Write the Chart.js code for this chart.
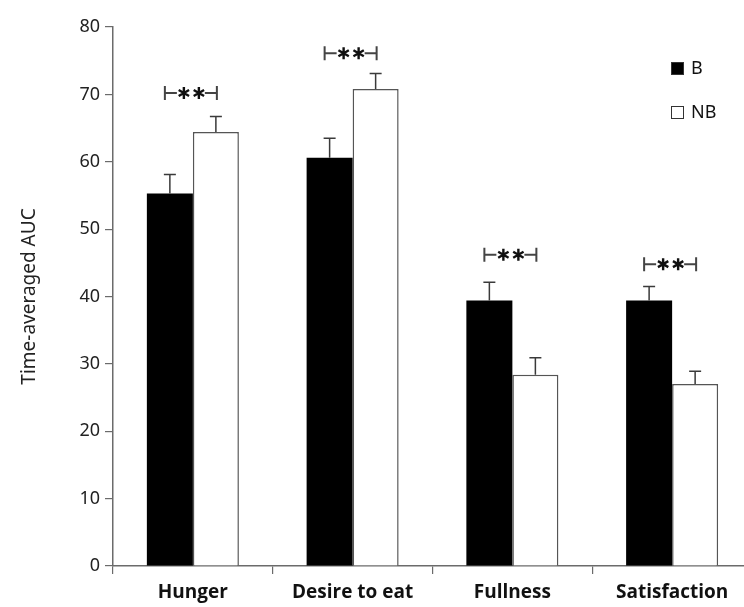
<!DOCTYPE html>
<html>
<head>
<meta charset="utf-8">
<script src="https://cdn.jsdelivr.net/npm/chart.js@4.4.0/dist/chart.umd.min.js"></script>
<style>
  html, body { margin: 0; padding: 0; background: #fff; overflow: hidden; }
  #chart { display: block; }
</style>
</head>
<body>
<canvas id="chart" width="752" height="607"></canvas>
<script>
// categories and series
const categories = ['Hunger', 'Desire to eat', 'Fullness', 'Satisfaction'];
const seriesNames = ['B', 'NB'];
const bMeans = [55.3, 60.6, 39.4, 39.4];
const bErrors = [2.8, 2.9, 2.7, 2.1];
const nbMeans = [64.4, 70.8, 28.4, 27.0];
const nbErrors = [2.3, 2.3, 2.5, 1.9];
// height of the "|-**-|" significance brackets
const sigLevels = [70.2, 76.1, 46.2, 44.8];
const yTicks = [0, 10, 20, 30, 40, 50, 60, 70, 80];
const yTitle = 'Time-averaged AUC';

const axisColor = '#6b6b6b';

// error bars (upper only), significance marks and the legend
const extras = {
  id: 'extras',
  afterDatasetsDraw(chart) {
    const ctx = chart.ctx;
    const yScale = chart.scales.y;
    const xScale = chart.scales.x;
    const errs = [bErrors, nbErrors];

    ctx.save();
    ctx.strokeStyle = '#3a3a3a';
    ctx.lineWidth = 1.5;
    chart.data.datasets.forEach((ds, di) => {
      const meta = chart.getDatasetMeta(di);
      meta.data.forEach((bar, i) => {
        const top = yScale.getPixelForValue(ds.data[i] + errs[di][i]);
        ctx.beginPath();
        ctx.moveTo(bar.x, bar.y);
        ctx.lineTo(bar.x, top);
        ctx.moveTo(bar.x - 6, top);
        ctx.lineTo(bar.x + 6, top);
        ctx.stroke();
      });
    });

    // |-**-|
    sigLevels.forEach((v, i) => {
      const cx = xScale.getPixelForValue(i) - 2;
      const cy = yScale.getPixelForValue(v);
      ctx.strokeStyle = '#444';
      ctx.lineWidth = 2;
      ctx.beginPath();
      ctx.moveTo(cx - 26, cy - 7);
      ctx.lineTo(cx - 26, cy + 7);
      ctx.moveTo(cx + 26, cy - 7);
      ctx.lineTo(cx + 26, cy + 7);
      ctx.moveTo(cx - 26, cy);
      ctx.lineTo(cx - 14, cy);
      ctx.moveTo(cx + 14, cy);
      ctx.lineTo(cx + 26, cy);
      ctx.stroke();
      [-7, 8].forEach(dx => {
        const sx = cx + dx;
        ctx.strokeStyle = '#111';
        ctx.lineWidth = 2.4;
        ctx.beginPath();
        for (let k = 0; k < 3; k++) {
          const a = Math.PI / 2 + k * Math.PI / 3;
          ctx.moveTo(sx + Math.cos(a) * 6, cy + Math.sin(a) * 6);
          ctx.lineTo(sx - Math.cos(a) * 6, cy - Math.sin(a) * 6);
        }
        ctx.stroke();
      });
    });

    // legend
    ctx.font = '18px "Noto Sans"';
    ctx.textBaseline = 'middle';
    ctx.textAlign = 'left';
    chart.data.datasets.forEach((ds, di) => {
      const x = 671, y = 62 + di * 44;
      ctx.fillStyle = ds.backgroundColor;
      ctx.fillRect(x, y, 12, 12);
      ctx.strokeStyle = '#333';
      ctx.lineWidth = 1;
      ctx.strokeRect(x + 0.5, y + 0.5, 12, 12);
      ctx.fillStyle = '#111';
      ctx.fillText(ds.label, x + 20, y + 7);
    });
    ctx.restore();
  }
};

new Chart(document.getElementById('chart'), {
  type: 'bar',
  data: {
    labels: categories,
    datasets: [
      {
        label: seriesNames[0],
        data: bMeans,
        backgroundColor: '#000000',
        borderColor: '#000000',
        borderWidth: 0,
      },
      {
        label: seriesNames[1],
        data: nbMeans,
        backgroundColor: '#ffffff',
        borderColor: '#555555',
        borderWidth: 1.5,
      },
    ],
  },
  options: {
    responsive: false,
    animation: false,
    layout: { padding: { top: 27, right: 0, left: 0, bottom: 0 } },
    datasets: { bar: { categoryPercentage: 0.576, barPercentage: 1.0 } },
    plugins: {
      legend: { display: false },
      tooltip: { enabled: false },
    },
    scales: {
      x: {
        grid: {
          offset: true,
          drawOnChartArea: false,
          drawTicks: true,
          tickLength: 8,
          color: axisColor,
          lineWidth: 1.2,
        },
        border: { color: axisColor, width: 1.5 },
        ticks: {
          color: '#111',
          padding: 7,
          font: { family: '"Open Sans"', size: 19, weight: 'bold' },
        },
        afterFit(scale) { scale.height = 41; },
      },
      y: {
        min: 0,
        max: 80,
        afterBuildTicks(scale) { scale.ticks = yTicks.map(v => ({ value: v })); },
        grid: {
          drawOnChartArea: false,
          drawTicks: true,
          tickLength: 8,
          color: axisColor,
          lineWidth: 1.2,
        },
        border: { color: axisColor, width: 1.5 },
        ticks: {
          color: '#222',
          padding: 5,
          font: { family: '"Noto Sans"', size: 18 },
        },
        title: {
          display: true,
          text: yTitle,
          color: '#222',
          padding: { top: 18, bottom: 0 },
          font: { family: '"Noto Sans"', size: 19 },
        },
        afterFit(scale) { scale.width = 113; },
      },
    },
  },
  plugins: [extras],
});
</script>
</body>
</html>
